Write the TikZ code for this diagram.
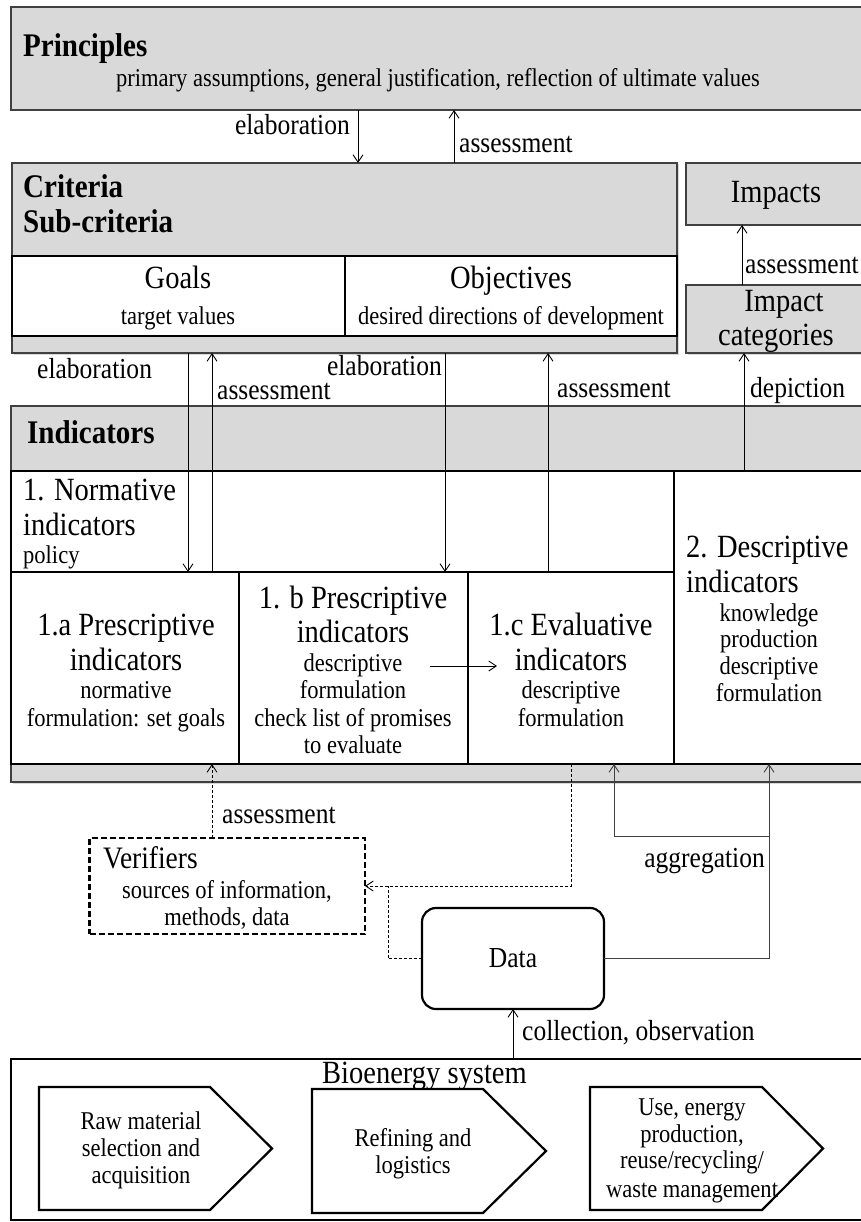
\documentclass[tikz,border=0pt]{standalone}
\usepackage{fontspec}
\setmainfont[FakeStretch=0.88]{Liberation Serif}
\usetikzlibrary{arrows.meta,shadows}
\definecolor{boxgray}{HTML}{D9D9D9}
\begin{document}
\begin{tikzpicture}[x=1pt,y=-1pt,
  graybox/.style={draw=black!75, line width=1.3, fill=boxgray, inner sep=0, outer sep=0,
     drop shadow={shadow xshift=1.5pt, shadow yshift=-1.5pt, opacity=0.3}},
  whitebox/.style={draw=black, line width=2.2, fill=white, inner sep=0, outer sep=0},
  bh/.style={font=\fontsize{33}{38}\selectfont\bfseries, anchor=base west, inner sep=0},
  lg/.style={font=\fontsize{32.4}{38}\selectfont, anchor=base, inner sep=0},
  md/.style={font=\fontsize{25.6}{30}\selectfont, anchor=base, inner sep=0},
  lb/.style={font=\fontsize{29}{34}\selectfont, inner sep=0},
  arr/.style={line width=0.9, -{Straight Barb[length=7.5pt,width=10pt]}},
  dsh/.style={line width=0.9, dash pattern=on 3pt off 2pt},
  agg/.style={line width=1.2, draw=black!75},
  chev/.style={draw=black, line width=2.2, fill=white, line join=miter}]
\useasboundingbox (0,0) rectangle (861,1222);
\clip (0,0) rectangle (861,1222);
\fill[white] (0,0) rectangle (861,1222);

% ---------- Principles ----------
\node[graybox, minimum width=864, minimum height=103] (prin) at (443,58.5) {};
\node[bh] (prinT) at (23,57) {Principles};
\node[md] (prinS) at (438,87) {primary assumptions, general justification, reflection of ultimate values};

% ---------- Criteria ----------
\node[graybox, minimum width=665, minimum height=190] (crit) at (344.5,258) {};
\node[whitebox, minimum width=333, minimum height=80] (goals) at (178.5,296) {};
\node[whitebox, minimum width=332, minimum height=80] (obj) at (511,296) {};
\node[bh] (critT) at (23,198) {Criteria};
\node[bh] (subT) at (23,233) {Sub-criteria};
\node[lg] (goalsT) at (178,289) {Goals};
\node[md] (goalsS) at (178,324) {target values};
\node[lg] (objT) at (511,289) {Objectives};
\node[md] (objS) at (511,324) {desired directions of development};

% ---------- Impacts ----------
\node[graybox, minimum width=189, minimum height=62] (imp) at (780.5,194) {};
\node[lg] (impT) at (776,203) {Impacts};
\node[graybox, minimum width=189, minimum height=68] (impcat) at (780.5,319) {};
\node[lg] (impcT1) at (784,312) {Impact};
\node[lg] (impcT2) at (776,345) {categories};

% ---------- Indicators ----------
\node[graybox, minimum width=864, minimum height=376] (ind) at (443,594) {};
\node[bh] (indT) at (27,443) {Indicators};
\node[whitebox, minimum width=663, minimum height=101] (norm) at (342.5,521.5) {};
\node[whitebox, minimum width=201, minimum height=293] (desc) at (774.5,617.5) {};
\node[whitebox, minimum width=228, minimum height=192] (p1a) at (125,668) {};
\node[whitebox, minimum width=229, minimum height=192] (p1b) at (353.5,668) {};
\node[whitebox, minimum width=206, minimum height=192] (e1c) at (571,668) {};

\node[lg, anchor=base west] (normT1) at (23,500) {1. Normative};
\node[lg, anchor=base west] (normT2) at (23,535) {indicators};
\node[md, anchor=base west] (normT3) at (23,563) {policy};

\node[lg] (p1aT1) at (126,635) {1.a Prescriptive};
\node[lg] (p1aT2) at (126,670) {indicators};
\node[md] (p1aT3) at (126,698) {normative};
\node[md] (p1aT4) at (126,726) {formulation: set goals};

\node[lg] (p1bT1) at (353,608) {1. b Prescriptive};
\node[lg] (p1bT2) at (353,642) {indicators};
\node[md] (p1bT3) at (353,671) {descriptive};
\node[md] (p1bT4) at (353,698) {formulation};
\node[md] (p1bT5) at (353,726) {check list of promises};
\node[md] (p1bT6) at (353,753) {to evaluate};

\node[lg] (e1cT1) at (571,635) {1.c Evaluative};
\node[lg] (e1cT2) at (571,670) {indicators};
\node[md] (e1cT3) at (571,698) {descriptive};
\node[md] (e1cT4) at (571,726) {formulation};

\node[lg, anchor=base west] (descT1) at (686,557) {2. Descriptive};
\node[lg, anchor=base west] (descT2) at (686,592) {indicators};
\node[md] (descT3) at (769,621) {knowledge};
\node[md] (descT4) at (769,647) {production};
\node[md] (descT5) at (769,674) {descriptive};
\node[md] (descT6) at (769,701) {formulation};

\coordinate (bcA) at (430,666);
\coordinate (bcB) at (497,666);
\draw[arr] (bcA) -- (bcB);

% ---------- vertical connectors ----------
\draw[arr] (prin.south -| 358,0) -- (crit.north -| 358,0);
\draw[arr] (crit.north -| 454,0) -- (prin.south -| 454,0);
\node[lb, anchor=base east] (l1) at (350,135) {elaboration};
\node[lb, anchor=base west] (l2) at (459,153) {assessment};

\draw[arr] (impcat.north -| 742,0) -- (imp.south -| 742,0);
\node[lb, anchor=base west] (l3) at (745,274) {assessment};

\draw[arr] (crit.south -| 188,0) -- (p1a.north -| 188,0);
\draw[arr] (p1a.north -| 212,0) -- (crit.south -| 212,0);
\draw[arr] (crit.south -| 445,0) -- (p1b.north -| 445,0);
\draw[arr] (e1c.north -| 548,0) -- (crit.south -| 548,0);
\draw[arr] (desc.north -| 744,0) -- (impcat.south -| 744,0);
\node[lb, anchor=base west] (l4) at (37,378) {elaboration};
\node[lb, anchor=base west] (l5) at (217,399) {assessment};
\node[lb, anchor=base east] (l6) at (442,375) {elaboration};
\node[lb, anchor=base west] (l7) at (557,397) {assessment};
\node[lb, anchor=base west] (l8) at (750,397) {depiction};

% ---------- Verifiers & Data ----------
\node[draw, line width=2.2, dash pattern=on 6pt off 3pt, minimum width=275.5, minimum height=96, inner sep=0, outer sep=0] (ver) at (227.25,886) {};
\node[font=\fontsize{31.2}{36}\selectfont, anchor=base west, inner sep=0] (verT1) at (103,868) {Verifiers};
\node[md] (verT2) at (227,898) {sources of information,};
\node[md] (verT3) at (227,925) {methods, data};

\node[draw, line width=2.2, rounded corners=14, minimum width=182, minimum height=101, inner sep=0, outer sep=0, font=\fontsize{29}{34}\selectfont] (data) at (513,958.5) {Data};

\draw[dsh, arr] (ver.north -| 212,0) -- (p1a.south -| 212,0);
\node[lb, anchor=base west] (l9) at (222,823) {assessment};

\draw[dsh, arr] (e1c.south -| 571,0) |- (ver.east);
\coordinate (vj) at (388,886);
\draw[dsh] (data.west) -| (vj);

\draw[agg, arr] (data.east) -| (desc.south -| 769,0);
\coordinate (ag) at (769,836);
\draw[agg, arr] (ag) -| (e1c.south -| 614,0);
\node[lb, anchor=base east] (l10) at (765,867) {aggregation};

% ---------- Bioenergy system ----------
\node[draw, line width=2, minimum width=864, minimum height=161, inner sep=0, outer sep=0] (bio) at (443,1139) {};
\node[lg] (bioT) at (424.5,1083) {Bioenergy system};
\draw[arr] (bio.north -| 513,0) -- (data.south);
\node[lb, anchor=base west] (l11) at (522,1040) {collection, observation};

\draw[chev] (39,1087) -- (210,1087) -- (272,1148.5) -- (210,1210) -- (39,1210) -- cycle;
\draw[chev] (312,1089) -- (483,1089) -- (546,1151) -- (483,1213) -- (312,1213) -- cycle;
\draw[chev] (590,1087) -- (762,1087) -- (823,1148.5) -- (762,1210) -- (590,1210) -- cycle;

\node[md] (c1a) at (141,1129) {Raw material};
\node[md] (c1b) at (141,1156) {selection and};
\node[md] (c1c) at (141,1183) {acquisition};
\node[md] (c2a) at (413,1146) {Refining and};
\node[md] (c2b) at (413,1173) {logistics};
\node[md] (c3a) at (692,1115) {Use, energy};
\node[md] (c3b) at (692,1142) {production,};
\node[md] (c3c) at (692,1168) {reuse/recycling/};
\node[md] (c3d) at (692,1197) {waste management};
\end{tikzpicture}
\end{document}
